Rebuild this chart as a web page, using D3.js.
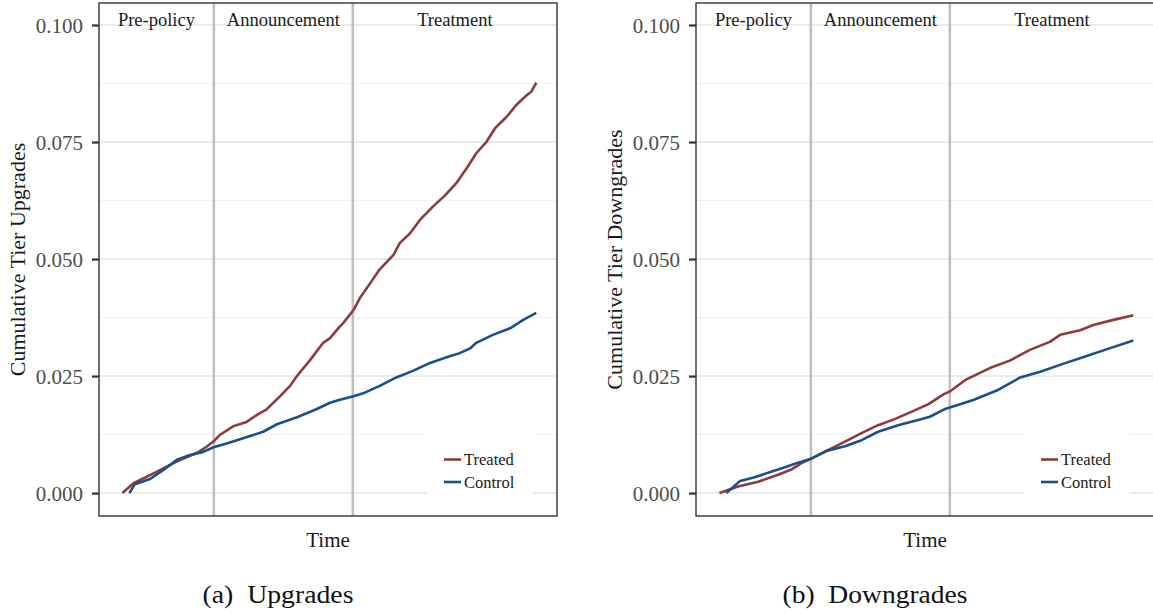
<!DOCTYPE html>
<html>
<head>
<meta charset="utf-8">
<script src="https://cdn.jsdelivr.net/npm/d3@7"></script>
<style>
  html, body { margin: 0; padding: 0; background: #ffffff; }
  svg { display: block; }
</style>
</head>
<body>
<svg id="fig" width="1153" height="614"></svg>
<script>
// Period boundaries (time index) and labels
const periodLabels = ["Pre-policy", "Announcement", "Treatment"];
const periodBreaks = [13.25, 33.4];

// Y axis ticks
const yTicks = [0, 0.025, 0.05, 0.075, 0.1];
const yTickLabels = ["0.000", "0.025", "0.050", "0.075", "0.100"];

const seriesNames = ["Treated", "Control"];

// Cumulative tier upgrades: [time, share]
const upTreated = [
  [0, 0], [1.6, 0.0021], [4.5, 0.0042], [7.4, 0.0064], [8.6, 0.0072], [10.8, 0.0086],
  [12.2, 0.0099], [13.4, 0.0113], [14.1, 0.0124], [16.1, 0.0143], [18.0, 0.0152],
  [19.5, 0.0167], [20.9, 0.0179], [22.8, 0.0206], [24.3, 0.0229], [25.3, 0.0250],
  [27.2, 0.0284], [29.1, 0.0321], [30.1, 0.0331], [31.4, 0.0354], [32.0, 0.0363],
  [33.5, 0.0391], [34.4, 0.0416], [35.9, 0.0448], [37.3, 0.0478], [39.3, 0.0509],
  [40.2, 0.0534], [41.7, 0.0555], [43.1, 0.0583], [45.0, 0.0612], [46.7, 0.0635],
  [48.4, 0.0662], [49.9, 0.0694], [51.3, 0.0726], [52.8, 0.0751], [54.0, 0.0779],
  [55.7, 0.0804], [57.1, 0.0829], [58.6, 0.0850], [59.3, 0.0858], [60, 0.0877]
];
const upControl = [
  [1, 0], [1.8, 0.0019], [4.0, 0.0030], [5.9, 0.0049], [7.9, 0.0071], [9.3, 0.0079],
  [11.7, 0.0088], [13.2, 0.0098], [15.1, 0.0106], [17.5, 0.0117], [20.4, 0.0131],
  [22.4, 0.0147], [25.3, 0.0162], [28.1, 0.0179], [30.1, 0.0193], [31.4, 0.0199],
  [33.5, 0.0207], [34.9, 0.0213], [37.3, 0.0229], [39.7, 0.0247], [42.1, 0.0261],
  [44.6, 0.0278], [47.0, 0.0290], [48.9, 0.0299], [50.4, 0.0309], [51.3, 0.0321],
  [53.7, 0.0338], [56.2, 0.0352], [58.1, 0.0370], [60, 0.0385]
];

// Cumulative tier downgrades: [time, share]
const downTreated = [
  [0, 0], [2.7, 0.0014], [5.6, 0.0024], [8.5, 0.0039], [10.5, 0.0051], [11.9, 0.0064],
  [13.4, 0.0074], [15.8, 0.0092], [18.2, 0.0110], [20.6, 0.0128], [23.0, 0.0145],
  [25.4, 0.0158], [27.9, 0.0174], [30.3, 0.0190], [32.6, 0.0212], [33.4, 0.0217],
  [35.8, 0.0243], [39.2, 0.0267], [42.1, 0.0283], [45.0, 0.0306], [47.9, 0.0323],
  [49.4, 0.0338], [52.3, 0.0348], [54.2, 0.0359], [57.1, 0.0370], [60, 0.0380]
];
const downControl = [
  [1, 0], [3.0, 0.0026], [5.1, 0.0034], [7.6, 0.0046], [9.5, 0.0055], [11.4, 0.0065],
  [13.4, 0.0074], [15.5, 0.0090], [18.2, 0.0100], [20.6, 0.0113], [23.0, 0.0131],
  [25.9, 0.0145], [28.8, 0.0156], [30.5, 0.0163], [32.6, 0.0179], [33.4, 0.0183],
  [36.8, 0.0199], [40.2, 0.0219], [43.6, 0.0247], [46.5, 0.0259], [49.8, 0.0276],
  [52.7, 0.0290], [56.1, 0.0307], [60, 0.0326]
];

const colors = { Treated: "#8c3b3e", Control: "#1b4f8b" };
const FONT = "Liberation Serif, Times New Roman, serif";

const svg = d3.select("#fig");

const panelW = 458, panelTop = 3, panelBottom = 516;
const y = d3.scaleLinear().domain([-0.0049, 0.1047]).range([panelBottom, panelTop]);

function drawPanel(left, yTitle, caption, treated, control, captionWidth) {
  const x = d3.scaleLinear().domain([-3.4, 63]).range([left, left + panelW]);
  const g = svg.append("g");
  const right = left + panelW;

  // clip to the visible panel area
  const clipId = "clip" + left;
  svg.append("clipPath").attr("id", clipId)
    .append("rect").attr("x", left).attr("y", panelTop)
    .attr("width", panelW).attr("height", panelBottom - panelTop);
  const inner = g.append("g").attr("clip-path", `url(#${clipId})`);

  // minor grid
  const minor = d3.range(0.0125, 0.1, 0.025);
  inner.selectAll(".minor").data(minor).join("line")
    .attr("x1", left).attr("x2", right)
    .attr("y1", d => y(d)).attr("y2", d => y(d))
    .attr("stroke", "#f2f2f2").attr("stroke-width", 1.1);
  // major grid
  inner.selectAll(".major").data(yTicks).join("line")
    .attr("x1", left).attr("x2", right)
    .attr("y1", d => y(d)).attr("y2", d => y(d))
    .attr("stroke", "#ebebeb").attr("stroke-width", 2);

  // period separators
  inner.selectAll(".sep").data(periodBreaks).join("line")
    .attr("x1", d => x(d)).attr("x2", d => x(d))
    .attr("y1", panelTop).attr("y2", panelBottom)
    .attr("stroke", "#bfbfbf").attr("stroke-width", 2.6);

  // period labels, centred in each segment
  const edges = [x.domain()[0], ...periodBreaks, x.domain()[1]];
  inner.selectAll(".plab").data(periodLabels).join("text")
    .attr("x", (d, i) => (x(edges[i]) + x(edges[i + 1])) / 2)
    .attr("y", 25.5)
    .attr("text-anchor", "middle")
    .attr("font-family", FONT).attr("font-size", 18.5).attr("fill", "#1a1a1a")
    .text(d => d);

  // legend background
  inner.append("rect")
    .attr("x", right - 130).attr("y", 428).attr("width", 106).attr("height", 84)
    .attr("fill", "#ffffff");

  // series lines
  const line = d3.line().x(d => x(d[0])).y(d => y(d[1]));
  [[treated, "Treated"], [control, "Control"]].forEach(([data, name]) => {
    inner.append("path").datum(data)
      .attr("d", line)
      .attr("fill", "none")
      .attr("stroke", colors[name])
      .attr("stroke-width", 2.6)
      .attr("stroke-linejoin", "round");
  });

  // legend keys
  const lg = inner.append("g").attr("transform", `translate(${right - 113},0)`);
  seriesNames.forEach((name, i) => {
    const cy = 459.5 + i * 22.5;
    lg.append("line").attr("x1", 0).attr("x2", 17).attr("y1", cy).attr("y2", cy)
      .attr("stroke", colors[name]).attr("stroke-width", 2.6);
    lg.append("text").attr("x", 20).attr("y", cy + 5.5)
      .attr("font-family", FONT).attr("font-size", 16.5).attr("fill", "#1a1a1a")
      .text(name);
  });

  // panel border
  g.append("rect")
    .attr("x", left).attr("y", panelTop).attr("width", panelW).attr("height", panelBottom - panelTop)
    .attr("fill", "none").attr("stroke", "#333333").attr("stroke-width", 1.4);

  // y axis
  const yAxis = d3.axisLeft(y).tickValues(yTicks)
    .tickFormat((d, i) => yTickLabels[i]).tickSize(7).tickPadding(9);
  const ax = g.append("g").attr("transform", `translate(${left},0)`).call(yAxis)
    .attr("font-family", FONT);
  ax.select(".domain").remove();
  ax.selectAll(".tick line").attr("stroke", "#333333").attr("stroke-width", 2.2);
  ax.selectAll(".tick text")
    .attr("font-family", FONT).attr("font-size", 21).attr("fill", "#4d4d4d")
    .attr("dy", "0.34em");

  // axis titles
  g.append("text")
    .attr("transform", `translate(${left - 74},${(panelTop + panelBottom) / 2}) rotate(-90)`)
    .attr("text-anchor", "middle")
    .attr("font-family", FONT).attr("font-size", 22).attr("fill", "#1a1a1a")
    .text(yTitle);
  g.append("text")
    .attr("x", left + panelW / 2).attr("y", 546.5)
    .attr("text-anchor", "middle")
    .attr("font-family", FONT).attr("font-size", 21).attr("fill", "#1a1a1a")
    .text("Time");

  // sub-figure caption
  g.append("text")
    .attr("x", left + panelW / 2 - 50).attr("y", 603)
    .attr("text-anchor", "middle")
    .attr("font-family", FONT).attr("font-size", 25).attr("fill", "#111111")
    .attr("textLength", captionWidth).attr("lengthAdjust", "spacingAndGlyphs")
    .text(caption);
}

drawPanel(99, "Cumulative Tier Upgrades", "(a)\u2002Upgrades", upTreated, upControl, 151);
drawPanel(696, "Cumulative Tier Downgrades", "(b)\u2002Downgrades", downTreated, downControl, 185);
</script>
</body>
</html>
